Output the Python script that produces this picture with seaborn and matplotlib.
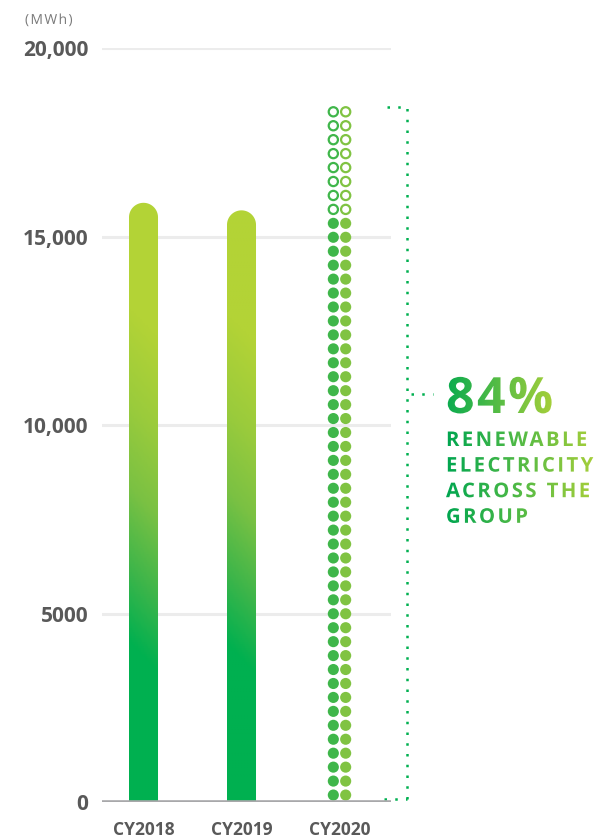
import numpy as np
import pandas as pd
import matplotlib
matplotlib.use("Agg")
import matplotlib.pyplot as plt
import seaborn as sns
from matplotlib.path import Path
from matplotlib.patches import PathPatch
from matplotlib.transforms import TransformedPath
from matplotlib.textpath import TextToPath
from matplotlib.font_manager import FontProperties
from matplotlib.colors import LinearSegmentedColormap
from matplotlib.patheffects import AbstractPathEffect

# ---- data -------------------------------------------------------------
years = ["CY2018", "CY2019", "CY2020"]
consumption_mwh = [15900, 15700, 18500]
renewable_share_2020 = 0.84
dot_rows = 50
y_ticks = [0, 5000, 10000, 15000, 20000]
y_tick_labels = ["0", "5000", "10,000", "15,000", "20,000"]
unit_label = "(MWh)"
headline = "84%"
caption_lines = ["RENEWABLE", "ELECTRICITY", "ACROSS THE", "GROUP"]

# ---- styling ----------------------------------------------------------
W, H, DPI = 601, 838, 100
GREEN = "#00b050"
LIME = "#b3d336"
GREY_TXT = "#595959"

sns.set_theme(style="white")
plt.rcParams["font.family"] = ["Open Sans", "DejaVu Sans"]


class TrackedGradient(AbstractPathEffect):
    """Draws text glyphs with extra letter spacing, filled with a
    horizontal colour gradient spanning span[0]..span[1] (pixels)."""

    def __init__(self, text, prop, tracking_em, c0, c1, span):
        super().__init__()
        t2p = TextToPath()
        self.counts = []
        for ch in text:
            _, codes = t2p.get_text_path(prop, ch)
            self.counts.append(int(np.sum(np.asarray(codes) == Path.MOVETO)))
        self.shift = tracking_em * t2p.FONT_SCALE
        self.cmap = LinearSegmentedColormap.from_list("t", [c0, c1])
        self.span = span

    def draw_path(self, renderer, gc, tpath, affine, rgbFace=None):
        verts = np.array(tpath.vertices, dtype=float)
        codes = tpath.codes
        owner = np.repeat(np.arange(len(self.counts)), self.counts)
        if codes is not None and len(owner):
            contour = np.cumsum(codes == Path.MOVETO) - 1
            contour = np.clip(contour, 0, len(owner) - 1)
            verts[:, 0] += owner[contour] * self.shift
        path = Path(verts, codes)
        bb = path.get_extents(affine)
        x0, y0 = int(np.floor(bb.x0)) - 1, int(np.floor(bb.y0)) - 1
        x1, y1 = int(np.ceil(bb.x1)) + 1, int(np.ceil(bb.y1)) + 1
        w, h = max(x1 - x0, 1), max(y1 - y0, 1)
        xs = x0 + np.arange(w) + 0.5
        t = np.clip((xs - self.span[0]) / (self.span[1] - self.span[0]), 0, 1)
        row = (self.cmap(t) * 255).astype(np.uint8)
        img = np.ascontiguousarray(np.repeat(row[None, :, :], h, axis=0))
        gc2 = renderer.new_gc()
        gc2.copy_properties(gc)
        gc2.set_clip_path(TransformedPath(path, affine))
        renderer.draw_image(gc2, x0, y0, img)
        gc2.restore()


fig = plt.figure(figsize=(W / DPI, H / DPI), dpi=DPI)
fig.patch.set_facecolor("white")
ax = fig.add_axes([102 / W, 36 / H, 289 / W, 753.7 / H])

df = pd.DataFrame({"year": years, "mwh": consumption_mwh})
sns.barplot(data=df, x="year", y="mwh", order=years, width=0.296,
            color=GREEN, saturation=1, ax=ax, zorder=2)

XLIM = (-0.4235, 2.5255)
YLIM = (0, 20000)
ax.set_xlim(*XLIM)
ax.set_ylim(*YLIM)

px_per_x = ax.bbox.width / (XLIM[1] - XLIM[0])
px_per_y = ax.bbox.height / (YLIM[1] - YLIM[0])

# gradient bars with rounded tops (slightly diagonal shading)
bar_cmap = LinearSegmentedColormap.from_list(
    "bar", [(0, GREEN), (0.24, GREEN), (0.36, "#3cb54a"), (0.5, "#7ac143"),
            (0.64, "#9acb3c"), (0.8, LIME), (1, LIME)])
gy, gx = np.mgrid[0:1:300j, 0:1:20j]
grad = np.clip(gy + 0.05 * (gx - 0.5), 0, 1)
for i, p in enumerate(list(ax.patches)):
    p.set_visible(False)
    if years[i] == "CY2020":
        continue
    x0, w, h = p.get_x(), p.get_width(), p.get_height()
    rx = w / 2
    ry = rx * px_per_x / px_per_y
    th = np.linspace(0, np.pi, 60)
    arc = np.column_stack([x0 + rx + rx * np.cos(th), h - ry + ry * np.sin(th)])
    verts = np.vstack([[x0, 0], [x0 + w, 0], [x0 + w, h - ry], arc,
                       [x0, h - ry], [x0, 0]])
    clip = PathPatch(Path(verts), transform=ax.transData,
                     facecolor="none", edgecolor="none")
    ax.add_patch(clip)
    im = ax.imshow(grad, extent=[x0, x0 + w, 0, h], origin="lower",
                   aspect="auto", cmap=bar_cmap, vmin=0, vmax=1, zorder=2)
    im.set_clip_path(clip)

# dotted column for CY2020: each row is 1/dot_rows of total consumption
total = consumption_mwh[2]
filled_rows = int(round(renewable_share_2020 * dot_rows))
rows = []
for k in range(dot_rows):
    for side, col in ((-1, "L"), (1, "R")):
        rows.append({"x": 2 + side * 0.063,
                     "y": (k + 0.5) * total / dot_rows,
                     "col": col,
                     "filled": k < filled_rows})
dots = pd.DataFrame(rows)
dot_pal = {"L": "#3fb64a", "R": "#80c342"}
sns.scatterplot(data=dots[dots.filled], x="x", y="y", hue="col",
                palette=dot_pal, s=64, linewidth=0, legend=False,
                ax=ax, zorder=3)
op = dots[~dots.filled]
ax.scatter(op.x, op.y, s=44, facecolors="white",
           edgecolors=[dot_pal[c] for c in op.col], linewidths=1.6, zorder=3)

# grid and baseline
for t in y_ticks[1:]:
    ax.axhline(t, color="#ececec", lw=2.2, zorder=0)
ax.axhline(0, color="#a8a8aa", lw=2.6, solid_capstyle="round", zorder=5)

sns.despine(ax=ax, left=True, bottom=True)
ax.set_xlabel("")
ax.set_ylabel("")
ax.set_yticks(y_ticks, y_tick_labels)
ax.tick_params(axis="y", length=0, pad=10, labelsize=15, labelcolor=GREY_TXT)
ax.tick_params(axis="x", length=0, pad=14, labelsize=12.5, labelcolor=GREY_TXT)
for lab in ax.get_yticklabels() + ax.get_xticklabels():
    lab.set_fontweight("bold")


# bracket around the CY2020 column
def xd(px):
    return (px - 143.5) / px_per_x


dot_style = dict(color="#00b050", lw=1.8, linestyle=(0, (1, 3.3)),
                 clip_on=False, zorder=4)
bx = xd(406.5)
ax.plot([bx, bx], [80, 18450], **dot_style)
ax.plot([xd(387), bx], [18450, 18450], **dot_style)
ax.plot([xd(384), bx], [80, 80], **dot_style)
ax.plot([xd(411), xd(433)], [10830, 10830], **dot_style)


def styled_text(x, y, s, size, weight, tracking, c0, c1, span, va="baseline"):
    fp = FontProperties(family=["Open Sans", "DejaVu Sans"], weight=weight,
                        size=size)
    txt = fig.text(x / W, 1 - y / H, s, fontproperties=fp, color=c0,
                   va=va, ha="left")
    txt.set_path_effects([TrackedGradient(s, fp, tracking, c0, c1, span)])
    return txt


styled_text(25, 24, unit_label, 10, "normal", 0.1, "#7a7a7a", "#7a7a7a",
            (0, W))
styled_text(446, 413, headline, 36, "bold", 0.05, "#0aab4f", "#aad03a",
            (446, 556))
for i, line in enumerate(caption_lines):
    styled_text(446, 446 + 25.6 * i, line, 14.6, "bold", 0.12,
                "#00a650", "#a8cf3a", (446, 596))

fig.savefig("out.png", dpi=DPI)
